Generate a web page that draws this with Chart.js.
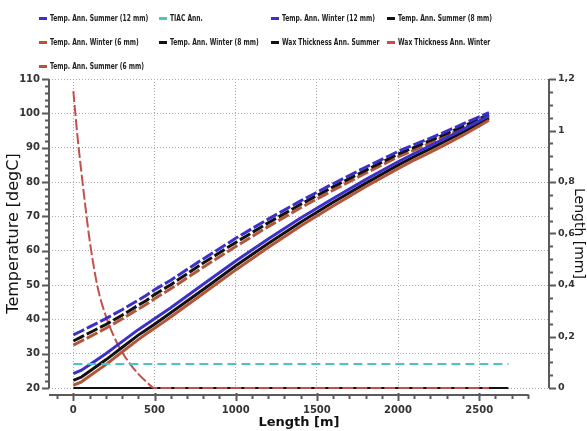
<!DOCTYPE html>
<html>
<head>
<meta charset="utf-8">
<script src="https://cdn.jsdelivr.net/npm/chart.js@4.4.1/dist/chart.umd.min.js"></script>
<style>
html, body { margin: 0; padding: 0; background: #fff; }
#wrap { position: relative; width: 587px; height: 431px; }
#legend {
    position: absolute; left: 39px; top: 6px;
    display: grid; grid-template-columns: 120px 112px 116px 160px; grid-auto-rows: 24px;
    font-family: "DejaVu Sans Condensed", "DejaVu Sans", sans-serif;
    font-size: 9px; font-weight: bold; color: #222;
}
.item { display: flex; align-items: center; white-space: nowrap; overflow: visible; }
.mark { flex: 0 0 8px; width: 8px; height: 3px; margin-right: 3px; }
.txt { display: inline-block; transform: scaleX(0.74); transform-origin: left center; }
</style>
</head>
<body>
<div id="wrap">
    <canvas id="chart" width="587" height="431"></canvas>
    <div id="legend"></div>
</div>
<script>
// pipe length [m] for the annulus temperature profiles
var lengths = [0, 50, 100, 200, 300, 400, 450, 500, 600, 800, 1000, 1200, 1400, 1600, 1800, 2000, 2100, 2200, 2300, 2400, 2500, 2560];

var summer12 = [35.5, 36.6, 37.8, 40.2, 42.8, 45.6, 47.0, 48.6, 51.4, 57.6, 63.6, 69.2, 74.5, 79.5, 84.3, 88.9, 90.9, 92.8, 94.8, 96.9, 99.0, 100.2];
var summer8  = [33.7, 34.9, 36.1, 38.5, 41.2, 44.1, 45.5, 47.2, 50.1, 56.4, 62.4, 68.1, 73.5, 78.6, 83.4, 88.1, 90.1, 92.1, 94.1, 96.2, 98.4, 99.6];
var summer6  = [32.5, 33.7, 34.9, 37.4, 40.1, 43.0, 44.4, 46.0, 48.9, 55.2, 61.2, 67.0, 72.5, 77.6, 82.6, 87.3, 89.3, 91.4, 93.5, 95.6, 97.8, 99.0];
var winter12 = [24.2, 25.2, 26.8, 30.0, 33.5, 37.0, 38.6, 40.2, 43.4, 50.2, 57.0, 63.4, 69.5, 75.2, 80.7, 85.9, 88.3, 90.6, 92.9, 95.3, 97.8, 99.3];
var winter8  = [22.2, 23.2, 24.9, 28.2, 31.8, 35.4, 37.0, 38.6, 41.9, 48.7, 55.6, 62.1, 68.3, 74.1, 79.6, 84.9, 87.4, 89.7, 92.1, 94.5, 97.0, 98.6];
var winter6  = [20.8, 21.8, 23.5, 26.8, 30.5, 34.1, 35.8, 37.4, 40.7, 47.5, 54.4, 60.9, 67.2, 73.0, 78.6, 83.9, 86.4, 88.7, 91.1, 93.6, 96.3, 98.0];

// TIAC and wax thickness
var tiacLengths = [0, 2680];
var tiacTemp = [27, 27];
var waxSummerLengths = [0, 2680];
var waxSummer = [0, 0];
var waxWinterLengths = [0, 25, 50, 75, 100, 150, 200, 250, 300, 350, 400, 450, 500, 2560];
var waxWinter = [1.153, 0.98, 0.835, 0.70, 0.575, 0.39, 0.28, 0.20, 0.14, 0.093, 0.055, 0.024, 0.0, 0.0];

// tick labels
var lengthTicks = [0, 500, 1000, 1500, 2000, 2500];
var tempTicks = [20, 30, 40, 50, 60, 70, 80, 90, 100, 110];
var mmTicks = [0, 0.2, 0.4, 0.6, 0.8, 1, 1.2];
var mmLabels = ['0', '0,2', '0,4', '0,6', '0,8', '1', '1,2'];

var blue = '#3b30c9', black = '#111111', brown = '#b4553a', cyan = '#4ec3c6', waxRed = '#c4504b';

function pts(xs, ys) {
    return xs.map(function (x, i) { return { x: x, y: ys[i] }; });
}

function tempLine(label, ys, color, dashed) {
    return {
        label: label,
        data: pts(lengths, ys),
        borderColor: color,
        backgroundColor: color,
        borderWidth: 3,
        borderDash: dashed ? [12, 3] : [],
        pointRadius: 0,
        yAxisID: 'y'
    };
}

var datasets = [
    tempLine('Temp. Ann. Summer (12 mm)', summer12, blue, true),
    {
        label: 'TIAC Ann.', data: pts(tiacLengths, tiacTemp), borderColor: cyan, backgroundColor: cyan,
        borderWidth: 2, borderDash: [9, 5], pointRadius: 0, yAxisID: 'y'
    },
    tempLine('Temp. Ann. Winter (12 mm)', winter12, blue, false),
    tempLine('Temp. Ann. Summer (8 mm)', summer8, black, true),
    tempLine('Temp. Ann. Winter (6 mm)', winter6, brown, false),
    tempLine('Temp. Ann. Winter (8 mm)', winter8, black, false),
    {
        label: 'Wax Thickness Ann. Summer', data: pts(waxSummerLengths, waxSummer), borderColor: black, backgroundColor: black,
        borderWidth: 2, pointRadius: 0, yAxisID: 'y2', order: 2, clip: 6
    },
    {
        label: 'Wax Thickness Ann. Winter', data: pts(waxWinterLengths, waxWinter), borderColor: waxRed, backgroundColor: waxRed,
        borderWidth: 2, borderDash: [11, 3], pointRadius: 0, yAxisID: 'y2', cubicInterpolationMode: 'monotone', clip: 6
    },
    tempLine('Temp. Ann. Summer (6 mm)', summer6, brown, true)
];

// axis lines with major and minor ticks
var axesPlugin = {
    id: 'axes',
    afterDraw: function (chart) {
        var ctx = chart.ctx, ca = chart.chartArea;
        var x = chart.scales.x, y = chart.scales.y, y2 = chart.scales.y2;
        ctx.save();
        ctx.strokeStyle = '#5a5a5a';
        ctx.lineWidth = 2;
        ctx.beginPath();
        // left
        ctx.moveTo(ca.left, y.getPixelForValue(110));
        ctx.lineTo(ca.left, y.getPixelForValue(20));
        for (var t = 20; t <= 110; t += 2) {
            var py = Math.round(y.getPixelForValue(t)) + 0.5;
            ctx.moveTo(ca.left, py);
            ctx.lineTo(ca.left - (t % 10 === 0 ? 7 : 4), py);
        }
        // right
        ctx.moveTo(ca.right, y2.getPixelForValue(1.2));
        ctx.lineTo(ca.right, y2.getPixelForValue(0));
        for (var k = 0; k <= 24; k++) {
            var py2 = Math.round(y2.getPixelForValue(k * 0.05)) + 0.5;
            ctx.moveTo(ca.right, py2);
            ctx.lineTo(ca.right + (k % 4 === 0 ? 7 : 4), py2);
        }
        // bottom
        var ay = ca.bottom + 7;
        ctx.moveTo(ca.left, ay);
        ctx.lineTo(x.getPixelForValue(2800) + 1, ay);
        for (var m = -100; m <= 2800; m += 100) {
            var px = Math.round(x.getPixelForValue(m)) + 0.5;
            ctx.moveTo(px, ay - (m % 500 === 0 ? 2 : 0));
            ctx.lineTo(px, ay + (m % 500 === 0 ? 6 : 4));
        }
        ctx.stroke();
        ctx.restore();
    }
};

var tickFont = { family: 'DejaVu Sans', size: 10, weight: 'bold' };

var chart = new Chart(document.getElementById('chart').getContext('2d'), {
    type: 'line',
    data: { datasets: datasets },
    options: {
        responsive: false,
        animation: false,
        layout: { padding: { top: 79 } },
        plugins: { legend: { display: false }, tooltip: { enabled: false } },
        scales: {
            x: {
                type: 'linear', min: -150, max: 2930,
                afterBuildTicks: function (s) { s.ticks = lengthTicks.map(function (v) { return { value: v }; }); },
                afterFit: function (s) { s.height = 43; },
                ticks: { padding: 16, color: '#333', font: tickFont, callback: function (v) { return String(v); } },
                grid: { color: '#aaaaaa', lineWidth: 1, drawTicks: false },
                border: { display: false, dash: [1, 2] },
                title: { display: true, text: 'Length [m]', color: '#111', font: { family: 'DejaVu Sans', size: 13, weight: 'bold' }, padding: { top: 0, bottom: 1 } }
            },
            y: {
                position: 'left', min: 20, max: 110,
                afterBuildTicks: function (s) { s.ticks = tempTicks.map(function (v) { return { value: v }; }); },
                afterFit: function (s) { s.width = 49; },
                ticks: { padding: 9, color: '#333', font: tickFont },
                grid: { color: '#aaaaaa', lineWidth: 1, drawTicks: false },
                border: { display: false, dash: [1, 2] },
                title: { display: true, text: 'Temperature [degC]', color: '#111', font: { family: 'DejaVu Sans', size: 16 }, padding: { top: 4, bottom: 0 } }
            },
            y2: {
                position: 'right', min: 0, max: 1.2,
                afterBuildTicks: function (s) { s.ticks = mmTicks.map(function (v) { return { value: v }; }); },
                afterFit: function (s) { s.width = 38; },
                ticks: {
                    padding: 9, color: '#333', font: { family: 'DejaVu Sans', size: 9.5, weight: 'bold' },
                    callback: function (v, i) { return mmLabels[i]; }
                },
                grid: { display: false, drawTicks: false },
                border: { display: false },
                title: { display: true, text: 'Length [mm]', color: '#111', font: { family: 'DejaVu Sans', size: 14 }, padding: { top: 0, bottom: 0 } }
            }
        }
    },
    plugins: [axesPlugin]
});

// legend laid out in four columns like the original
var legend = document.getElementById('legend');
datasets.forEach(function (ds) {
    var item = document.createElement('div');
    item.className = 'item';
    var mark = document.createElement('span');
    mark.className = 'mark';
    mark.style.background = ds.borderColor;
    var text = document.createElement('span');
    text.className = 'txt';
    text.textContent = ds.label;
    item.appendChild(mark);
    item.appendChild(text);
    legend.appendChild(item);
});
</script>
</body>
</html>
